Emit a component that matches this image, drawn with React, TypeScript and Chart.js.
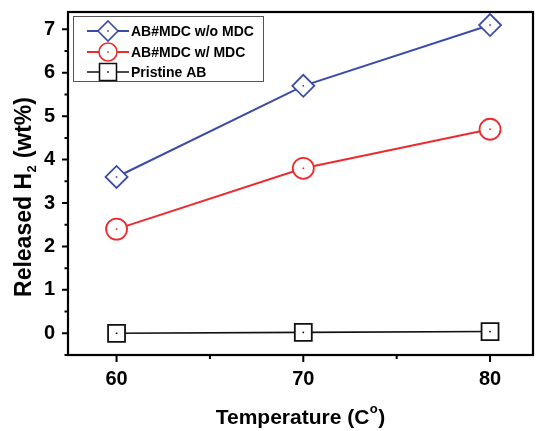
import React, { useEffect, useRef } from "react";
import { Chart, registerables } from "chart.js";

Chart.register(...registerables);

const temperatures = [60, 70, 80];
const withoutMDC = [3.6, 5.7, 7.1];
const withMDC = [2.4, 3.8, 4.7];
const pristineAB = [0, 0.02, 0.04];
const seriesLabels = ["AB#MDC w/o MDC", "AB#MDC w/ MDC", "Pristine AB"];
const yTickValues = [0, 1, 2, 3, 4, 5, 6, 7];
const yMinorValues = [-0.5, 0.5, 1.5, 2.5, 3.5, 4.5, 5.5, 6.5];
const xTickValues = [60, 70, 80];
const xMinorValues = [65, 75];

const BLUE = "#3b4ba8";
const RED = "#ec2b2f";
const BLACK = "#111111";
const FONT = "'Liberation Sans', Arial, sans-serif";

const colors = [BLUE, RED, BLACK];
const styles = ["rectRot", "circle", "rect"];

function toPoints(vals: number[]) {
  return temperatures.map((t, i) => ({ x: t, y: vals[i] }));
}

function drawMarker(ctx: CanvasRenderingContext2D, style: string, x: number, y: number, color: string) {
  ctx.save();
  ctx.strokeStyle = color;
  ctx.fillStyle = "#fff";
  ctx.lineWidth = 1.6;
  ctx.beginPath();
  if (style === "rectRot") {
    const r = 10;
    ctx.moveTo(x, y - r);
    ctx.lineTo(x + r, y);
    ctx.lineTo(x, y + r);
    ctx.lineTo(x - r, y);
    ctx.closePath();
  } else if (style === "circle") {
    ctx.arc(x, y, 9, 0, Math.PI * 2);
  } else {
    ctx.rect(x - 8.5, y - 8.5, 17, 17);
  }
  ctx.fill();
  ctx.stroke();
  ctx.fillStyle = color;
  ctx.fillRect(x - 0.8, y - 0.8, 1.6, 1.6);
  ctx.restore();
}

const customPlugin = {
  id: "custom",
  beforeDraw(chart: any) {
    const ctx = chart.ctx;
    ctx.save();
    ctx.fillStyle = "#fff";
    ctx.fillRect(0, 0, chart.width, chart.height);
    ctx.restore();
  },
  afterDatasetsDraw(chart: any) {
    const ctx = chart.ctx;
    ctx.save();
    chart.data.datasets.forEach((ds: any, i: number) => {
      const meta = chart.getDatasetMeta(i);
      meta.data.forEach((pt: any) => {
        ctx.fillStyle = ds.borderColor;
        ctx.fillRect(pt.x - 0.8, pt.y - 0.8, 1.6, 1.6);
      });
    });
    ctx.restore();
  },
  afterDraw(chart: any) {
    const ctx = chart.ctx;
    const a = chart.chartArea;
    const xs = chart.scales.x;
    const ys = chart.scales.y;
    ctx.save();
    // frame
    ctx.strokeStyle = "#000";
    ctx.lineWidth = 2.2;
    ctx.strokeRect(a.left, a.top, a.right - a.left, a.bottom - a.top);
    // ticks
    ctx.lineWidth = 2;
    ctx.beginPath();
    yTickValues.forEach((v) => {
      const py = ys.getPixelForValue(v);
      ctx.moveTo(a.left, py);
      ctx.lineTo(a.left - 6, py);
    });
    yMinorValues.forEach((v) => {
      const py = ys.getPixelForValue(v);
      ctx.moveTo(a.left, py);
      ctx.lineTo(a.left - 3.5, py);
    });
    xTickValues.forEach((v) => {
      const px = xs.getPixelForValue(v);
      ctx.moveTo(px, a.bottom);
      ctx.lineTo(px, a.bottom + 7);
    });
    xMinorValues.forEach((v) => {
      const px = xs.getPixelForValue(v);
      ctx.moveTo(px, a.bottom);
      ctx.lineTo(px, a.bottom + 4);
    });
    ctx.stroke();

    // x tick labels
    ctx.fillStyle = "#000";
    ctx.font = `bold 20px ${FONT}`;
    ctx.textAlign = "center";
    ctx.textBaseline = "middle";
    xTickValues.forEach((v) => {
      ctx.fillText(String(v), xs.getPixelForValue(v), a.bottom + 24);
    });

    // legend
    const lx = 73, ly = 16, lw = 190, lh = 65;
    ctx.lineWidth = 1;
    ctx.strokeStyle = "#555";
    ctx.strokeRect(lx + 0.5, ly + 0.5, lw, lh);
    const rows = [31, 52, 72];
    seriesLabels.forEach((label, i) => {
      const y = rows[i];
      ctx.strokeStyle = colors[i];
      ctx.lineWidth = i === 2 ? 1.6 : 2;
      ctx.beginPath();
      ctx.moveTo(87, y);
      ctx.lineTo(129, y);
      ctx.stroke();
      drawMarker(ctx, styles[i], 108, y, colors[i]);
      ctx.fillStyle = "#000";
      ctx.font = `bold 14px ${FONT}`;
      ctx.textAlign = "left";
      ctx.textBaseline = "middle";
      ctx.fillText(label, 131, y + 1);
    });

    // x title
    ctx.fillStyle = "#000";
    ctx.font = `bold 21px ${FONT}`;
    ctx.textBaseline = "alphabetic";
    const xMain = "Temperature (C";
    const wMain = ctx.measureText(xMain).width;
    ctx.font = `bold 13px ${FONT}`;
    const wSup = ctx.measureText("o").width;
    ctx.font = `bold 21px ${FONT}`;
    const wClose = ctx.measureText(")").width;
    const total = wMain + wSup + wClose + 1;
    const cx = (a.left + a.right) / 2;
    let x0 = cx - total / 2;
    const by = 424;
    ctx.textAlign = "left";
    ctx.fillText(xMain, x0, by);
    x0 += wMain + 0.5;
    ctx.font = `bold 13px ${FONT}`;
    ctx.fillText("o", x0, by - 11);
    x0 += wSup + 0.5;
    ctx.font = `bold 21px ${FONT}`;
    ctx.fillText(")", x0, by);

    // y title
    ctx.save();
    ctx.translate(31, 197);
    ctx.rotate(-Math.PI / 2);
    const p1 = "Released H";
    const p2 = "2";
    const p3 = " (wt%)";
    ctx.font = `bold 23px ${FONT}`;
    const w1 = ctx.measureText(p1).width;
    const w3 = ctx.measureText(p3).width;
    ctx.font = `bold 13px ${FONT}`;
    const w2 = ctx.measureText(p2).width;
    let t0 = -(w1 + w2 + w3 + 1) / 2;
    ctx.textAlign = "left";
    ctx.font = `bold 23px ${FONT}`;
    ctx.fillText(p1, t0, 0);
    t0 += w1 + 0.5;
    ctx.font = `bold 13px ${FONT}`;
    ctx.fillText(p2, t0, 5);
    t0 += w2 + 0.5;
    ctx.font = `bold 23px ${FONT}`;
    ctx.fillText(p3, t0, 0);
    ctx.restore();

    ctx.restore();
  },
};

function zeroPad(s: any) {
  s.paddingTop = 0;
  s.paddingBottom = 0;
  s.paddingLeft = 0;
  s.paddingRight = 0;
}

export default function App() {
  const ref = useRef<HTMLCanvasElement | null>(null);
  useEffect(() => {
    document.body.style.margin = "0";
    const canvas = ref.current;
    if (!canvas) return;
    const chart = new Chart(canvas, {
      type: "line",
      data: {
        datasets: [
          {
            label: seriesLabels[0],
            data: toPoints(withoutMDC),
            borderColor: BLUE,
            backgroundColor: "#fff",
            borderWidth: 2,
            pointStyle: "rectRot",
            pointRadius: 11,
            pointBorderWidth: 1.8,
          },
          {
            label: seriesLabels[1],
            data: toPoints(withMDC),
            borderColor: RED,
            backgroundColor: "#fff",
            borderWidth: 2,
            pointStyle: "circle",
            pointRadius: 10.5,
            pointBorderWidth: 1.8,
          },
          {
            label: seriesLabels[2],
            data: toPoints(pristineAB),
            borderColor: BLACK,
            backgroundColor: "#fff",
            borderWidth: 1.6,
            pointStyle: "rect",
            pointRadius: 12,
            pointBorderWidth: 1.8,
          },
        ],
      },
      options: {
        animation: false,
        responsive: false,
        maintainAspectRatio: false,
        layout: { autoPadding: false, padding: { top: 12, right: 3, left: 0, bottom: 0 } },
        plugins: {
          legend: { display: false },
          tooltip: { enabled: false },
        },
        scales: {
          x: {
            type: "linear",
            min: 57.4,
            max: 82.3,
            afterBuildTicks: (s: any) => {
              s.ticks = xTickValues.map((v) => ({ value: v }));
            },
            afterFit: (s: any) => {
              s.height = 76;
              zeroPad(s);
            },
            grid: { display: false, drawTicks: false },
            border: { display: false },
            ticks: { display: false },
          },
          y: {
            type: "linear",
            min: -0.5,
            max: 7.4,
            afterBuildTicks: (s: any) => {
              s.ticks = yTickValues.map((v) => ({ value: v }));
            },
            afterFit: (s: any) => {
              s.width = 68;
              zeroPad(s);
            },
            grid: { display: false, drawTicks: false },
            border: { display: false },
            ticks: {
              color: "#000",
              padding: 13,
              font: { family: FONT, size: 20, weight: "bold" },
            },
          },
        },
      },
      plugins: [customPlugin],
    } as any);
    return () => chart.destroy();
  }, []);
  return (
    <div style={{ position: "fixed", left: 0, top: 0, width: 536, height: 431 }}>
      <canvas ref={ref} width={536} height={431} style={{ width: 536, height: 431 }} />
    </div>
  );
}
